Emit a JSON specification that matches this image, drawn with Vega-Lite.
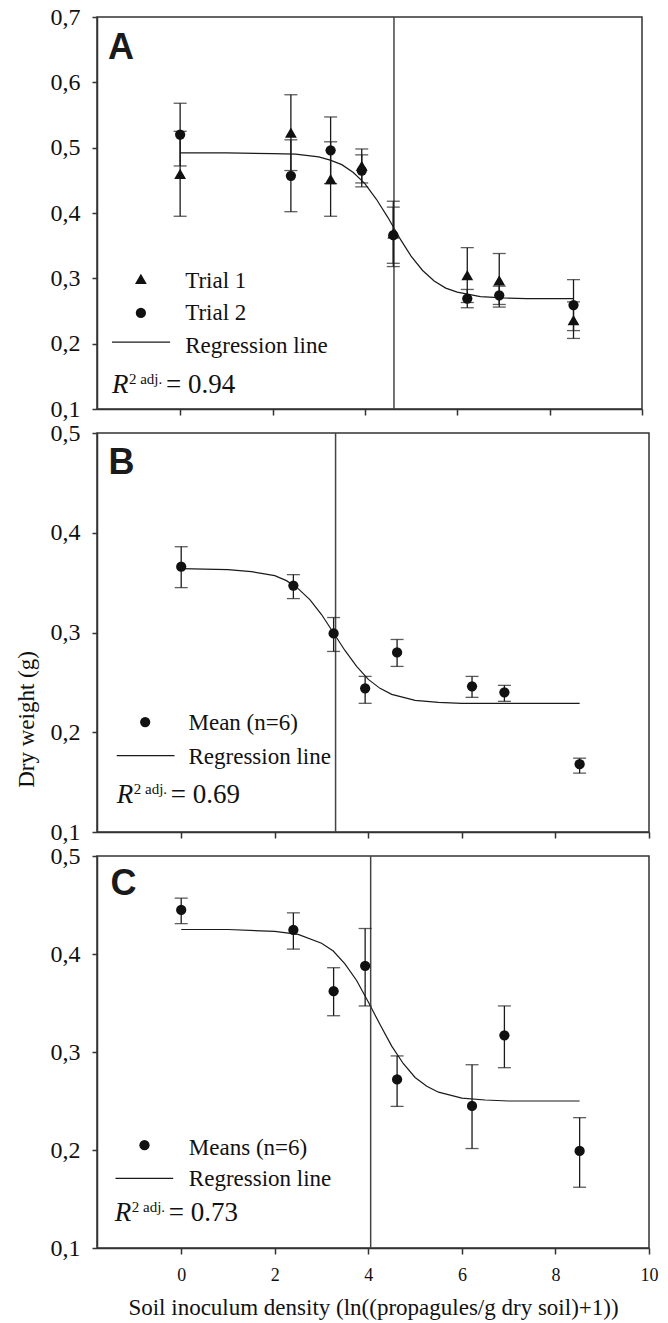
{
 "$schema": "https://vega.github.io/schema/vega-lite/v6.json",
 "background": "white",
 "padding": {"left": 14, "top": 4, "right": 5, "bottom": 0},
 "bounds": "flush",
 "spacing": 24,
 "config": {
  "font": "Liberation Serif",
  "view": {"stroke": "#333", "strokeWidth": 1.5},
  "text": {"font": "Liberation Serif"},
  "axis": {"grid": false, "domainColor": "#333", "domainWidth": 1.5, "tickColor": "#333", "tickWidth": 1.5, "tickSize": 5, "labelFont": "Liberation Serif", "labelColor": "#111", "titleFont": "Liberation Serif", "titleFontWeight": "normal", "titleColor": "#111", "labelFlush": false},
  "axisY": {"labelFontSize": 24, "labelPadding": 12, "titleFontSize": 23, "titlePadding": 12},
  "axisX": {"labelFontSize": 18, "labelPadding": 12, "titleFontSize": 23, "titlePadding": 12, "tickSize": 6}
 },
 "datasets": {
  "ptsA": [
   {"x": 0, "trial": "Trial 1", "y": 0.460, "lo": 0.395, "hi": 0.525},
   {"x": 2.398, "trial": "Trial 1", "y": 0.523, "lo": 0.465, "hi": 0.581},
   {"x": 3.258, "trial": "Trial 1", "y": 0.452, "lo": 0.395, "hi": 0.509},
   {"x": 3.932, "trial": "Trial 1", "y": 0.472, "lo": 0.440, "hi": 0.498},
   {"x": 4.615, "trial": "Trial 1", "y": 0.369, "lo": 0.318, "hi": 0.418},
   {"x": 6.217, "trial": "Trial 1", "y": 0.305, "lo": 0.263, "hi": 0.347},
   {"x": 6.909, "trial": "Trial 1", "y": 0.297, "lo": 0.256, "hi": 0.338},
   {"x": 8.517, "trial": "Trial 1", "y": 0.236, "lo": 0.208, "hi": 0.264},
   {"x": 0, "trial": "Trial 2", "y": 0.520, "lo": 0.472, "hi": 0.568},
   {"x": 2.398, "trial": "Trial 2", "y": 0.457, "lo": 0.402, "hi": 0.512},
   {"x": 3.258, "trial": "Trial 2", "y": 0.496, "lo": 0.445, "hi": 0.547},
   {"x": 3.932, "trial": "Trial 2", "y": 0.465, "lo": 0.446, "hi": 0.489},
   {"x": 4.615, "trial": "Trial 2", "y": 0.366, "lo": 0.323, "hi": 0.409},
   {"x": 6.217, "trial": "Trial 2", "y": 0.269, "lo": 0.255, "hi": 0.283},
   {"x": 6.909, "trial": "Trial 2", "y": 0.274, "lo": 0.260, "hi": 0.288},
   {"x": 8.517, "trial": "Trial 2", "y": 0.259, "lo": 0.220, "hi": 0.298}
  ],
  "curveA": [
   {"x": 0, "y": 0.492}, {"x": 1, "y": 0.492}, {"x": 2, "y": 0.491}, {"x": 2.5, "y": 0.490},
   {"x": 3, "y": 0.486}, {"x": 3.25, "y": 0.481}, {"x": 3.5, "y": 0.474}, {"x": 3.75, "y": 0.462},
   {"x": 4, "y": 0.445}, {"x": 4.25, "y": 0.421}, {"x": 4.5, "y": 0.393}, {"x": 4.75, "y": 0.362},
   {"x": 5, "y": 0.334}, {"x": 5.25, "y": 0.312}, {"x": 5.5, "y": 0.296}, {"x": 5.75, "y": 0.285},
   {"x": 6, "y": 0.279}, {"x": 6.5, "y": 0.272}, {"x": 7, "y": 0.270}, {"x": 7.5, "y": 0.269},
   {"x": 8, "y": 0.269}, {"x": 8.517, "y": 0.269}
  ],
  "ptsB": [
   {"x": 0, "y": 0.366, "lo": 0.345, "hi": 0.386},
   {"x": 2.398, "y": 0.347, "lo": 0.334, "hi": 0.358},
   {"x": 3.258, "y": 0.299, "lo": 0.281, "hi": 0.315},
   {"x": 3.932, "y": 0.244, "lo": 0.229, "hi": 0.256},
   {"x": 4.615, "y": 0.280, "lo": 0.266, "hi": 0.293},
   {"x": 6.217, "y": 0.246, "lo": 0.235, "hi": 0.256},
   {"x": 6.909, "y": 0.240, "lo": 0.231, "hi": 0.247},
   {"x": 8.517, "y": 0.168, "lo": 0.159, "hi": 0.174}
  ],
  "curveB": [
   {"x": 0, "y": 0.364}, {"x": 1, "y": 0.363}, {"x": 1.5, "y": 0.361}, {"x": 2, "y": 0.357},
   {"x": 2.25, "y": 0.352}, {"x": 2.5, "y": 0.344}, {"x": 2.75, "y": 0.333}, {"x": 3, "y": 0.318},
   {"x": 3.25, "y": 0.300}, {"x": 3.5, "y": 0.282}, {"x": 3.75, "y": 0.266}, {"x": 4, "y": 0.253},
   {"x": 4.25, "y": 0.244}, {"x": 4.5, "y": 0.238}, {"x": 5, "y": 0.232}, {"x": 5.5, "y": 0.230},
   {"x": 6, "y": 0.229}, {"x": 7, "y": 0.229}, {"x": 8.517, "y": 0.229}
  ],
  "ptsC": [
   {"x": 0, "y": 0.445, "lo": 0.431, "hi": 0.457},
   {"x": 2.398, "y": 0.4245, "lo": 0.405, "hi": 0.442},
   {"x": 3.258, "y": 0.362, "lo": 0.337, "hi": 0.386},
   {"x": 3.932, "y": 0.388, "lo": 0.347, "hi": 0.426},
   {"x": 4.615, "y": 0.272, "lo": 0.2445, "hi": 0.296},
   {"x": 6.217, "y": 0.245, "lo": 0.2015, "hi": 0.287},
   {"x": 6.909, "y": 0.317, "lo": 0.284, "hi": 0.347},
   {"x": 8.517, "y": 0.199, "lo": 0.162, "hi": 0.233}
  ],
  "curveC": [
   {"x": 0, "y": 0.425}, {"x": 1, "y": 0.425}, {"x": 2, "y": 0.423}, {"x": 2.5, "y": 0.420},
   {"x": 3, "y": 0.411}, {"x": 3.25, "y": 0.403}, {"x": 3.5, "y": 0.390}, {"x": 3.75, "y": 0.373},
   {"x": 4, "y": 0.351}, {"x": 4.25, "y": 0.328}, {"x": 4.5, "y": 0.306}, {"x": 4.75, "y": 0.288},
   {"x": 5, "y": 0.274}, {"x": 5.25, "y": 0.265}, {"x": 5.5, "y": 0.259}, {"x": 6, "y": 0.253},
   {"x": 6.5, "y": 0.251}, {"x": 7, "y": 0.250}, {"x": 8.517, "y": 0.250}
  ]
 },
 "vconcat": [
  {
   "width": 545, "height": 392,
   "layer": [
    {"data": {"name": "curveA"}, "mark": {"type": "line", "color": "#1a1a1a", "strokeWidth": 1.2},
     "encoding": {
      "x": {"field": "x", "type": "quantitative", "scale": {"domain": [-1.8, 10], "nice": false, "zero": false}, "axis": {"values": [0, 2, 4, 6, 8, 10], "labels": false, "title": null}},
      "y": {"field": "y", "type": "quantitative", "scale": {"domain": [0.1, 0.7], "nice": false, "zero": false}, "axis": {"values": [0.1, 0.2, 0.3, 0.4, 0.5, 0.6, 0.7], "labelExpr": "replace(format(datum.value, '.1f'), '.', ',')", "title": null}}
     }},
    {"data": {"values": [{}]}, "mark": {"type": "rule", "color": "#444", "strokeWidth": 1.5}, "encoding": {"x": {"datum": 4.63, "type": "quantitative"}}},
    {"data": {"name": "ptsA"}, "mark": {"type": "errorbar", "orient": "vertical", "ticks": {"size": 13, "color": "#1a1a1a", "thickness": 1.3}, "rule": {"color": "#1a1a1a", "strokeWidth": 1.3}},
     "encoding": {"x": {"field": "x", "type": "quantitative", "title": null}, "y": {"field": "lo", "type": "quantitative", "title": null}, "y2": {"field": "hi"}}},
    {"data": {"name": "ptsA"}, "transform": [{"filter": "datum.trial == 'Trial 1'"}], "mark": {"type": "point", "shape": "triangle-up", "filled": true, "opacity": 1, "color": "#111", "size": 140},
     "encoding": {"x": {"field": "x", "type": "quantitative"}, "y": {"field": "y", "type": "quantitative"}}},
    {"data": {"name": "ptsA"}, "transform": [{"filter": "datum.trial == 'Trial 2'"}], "mark": {"type": "point", "shape": "circle", "filled": true, "opacity": 1, "color": "#111", "size": 105},
     "encoding": {"x": {"field": "x", "type": "quantitative"}, "y": {"field": "y", "type": "quantitative"}}},
    {"data": {"values": [{}]}, "mark": {"type": "text", "text": "A", "font": "Liberation Sans", "fontWeight": "bold", "fontSize": 36, "align": "left", "baseline": "alphabetic", "color": "#1a1a1a"}, "encoding": {"x": {"datum": -1.56}, "y": {"datum": 0.6357}}},
    {"data": {"values": [{}]}, "mark": {"type": "point", "shape": "triangle-up", "filled": true, "opacity": 1, "color": "#111", "size": 140}, "encoding": {"x": {"datum": -0.85}, "y": {"datum": 0.299}}},
    {"data": {"values": [{}]}, "mark": {"type": "point", "shape": "circle", "filled": true, "opacity": 1, "color": "#111", "size": 105}, "encoding": {"x": {"datum": -0.85}, "y": {"datum": 0.247}}},
    {"data": {"values": [{}]}, "mark": {"type": "rule", "color": "#1a1a1a", "strokeWidth": 1.2}, "encoding": {"x": {"datum": -1.476}, "x2": {"datum": -0.217}, "y": {"datum": 0.2025}}},
    {"data": {"values": [{}]}, "mark": {"type": "text", "text": "Trial 1", "font": "Liberation Serif", "fontSize": 23, "align": "left", "baseline": "alphabetic", "color": "#111"}, "encoding": {"x": {"datum": 0.109}, "y": {"datum": 0.2852}}},
    {"data": {"values": [{}]}, "mark": {"type": "text", "text": "Trial 2", "font": "Liberation Serif", "fontSize": 23, "align": "left", "baseline": "alphabetic", "color": "#111"}, "encoding": {"x": {"datum": 0.109}, "y": {"datum": 0.2362}}},
    {"data": {"values": [{}]}, "mark": {"type": "text", "text": "Regression line", "font": "Liberation Serif", "fontSize": 23, "align": "left", "baseline": "alphabetic", "color": "#111"}, "encoding": {"x": {"datum": 0.109}, "y": {"datum": 0.1857}}},
    {"data": {"values": [{}]}, "mark": {"type": "text", "text": "R", "font": "Liberation Serif", "fontStyle": "italic", "fontSize": 27, "align": "left", "baseline": "alphabetic", "color": "#111"}, "encoding": {"x": {"datum": -1.476}, "y": {"datum": 0.1245}}},
    {"data": {"values": [{}]}, "mark": {"type": "text", "text": "2 adj.", "font": "Liberation Serif", "fontSize": 15, "align": "left", "baseline": "alphabetic", "dx": 17, "dy": -9, "color": "#111"}, "encoding": {"x": {"datum": -1.476}, "y": {"datum": 0.1245}}},
    {"data": {"values": [{}]}, "mark": {"type": "text", "text": "= 0.94", "font": "Liberation Serif", "fontSize": 27, "align": "left", "baseline": "alphabetic", "dx": 54, "color": "#111"}, "encoding": {"x": {"datum": -1.476}, "y": {"datum": 0.1245}}}
   ]
  },
  {
   "width": 552, "height": 399,
   "layer": [
    {"data": {"name": "curveB"}, "mark": {"type": "line", "color": "#1a1a1a", "strokeWidth": 1.2},
     "encoding": {
      "x": {"field": "x", "type": "quantitative", "scale": {"domain": [-1.8, 10], "nice": false, "zero": false}, "axis": {"values": [0, 2, 4, 6, 8, 10], "labels": false, "title": null}},
      "y": {"field": "y", "type": "quantitative", "title": "Dry weight (g)", "scale": {"domain": [0.1, 0.5], "nice": false, "zero": false}, "axis": {"values": [0.1, 0.2, 0.3, 0.4, 0.5], "labelExpr": "replace(format(datum.value, '.1f'), '.', ',')", "title": "Dry weight (g)", "titleY": 286}}
     }},
    {"data": {"values": [{}]}, "mark": {"type": "rule", "color": "#444", "strokeWidth": 1.5}, "encoding": {"x": {"datum": 3.30, "type": "quantitative"}}},
    {"data": {"name": "ptsB"}, "mark": {"type": "errorbar", "orient": "vertical", "ticks": {"size": 13, "color": "#1a1a1a", "thickness": 1.3}, "rule": {"color": "#1a1a1a", "strokeWidth": 1.3}},
     "encoding": {"x": {"field": "x", "type": "quantitative", "title": null}, "y": {"field": "lo", "type": "quantitative", "title": "Dry weight (g)"}, "y2": {"field": "hi"}}},
    {"data": {"name": "ptsB"}, "mark": {"type": "point", "shape": "circle", "filled": true, "opacity": 1, "color": "#111", "size": 105},
     "encoding": {"x": {"field": "x", "type": "quantitative"}, "y": {"field": "y", "type": "quantitative", "title": "Dry weight (g)"}}},
    {"data": {"values": [{}]}, "mark": {"type": "text", "text": "B", "font": "Liberation Sans", "fontWeight": "bold", "fontSize": 36, "align": "left", "baseline": "alphabetic", "color": "#1a1a1a"}, "encoding": {"x": {"datum": -1.556}, "y": {"datum": 0.459}}},
    {"data": {"values": [{}]}, "mark": {"type": "point", "shape": "circle", "filled": true, "opacity": 1, "color": "#111", "size": 105}, "encoding": {"x": {"datum": -0.77}, "y": {"datum": 0.2102}}},
    {"data": {"values": [{}]}, "mark": {"type": "rule", "color": "#1a1a1a", "strokeWidth": 1.2}, "encoding": {"x": {"datum": -1.378}, "x2": {"datum": -0.143}, "y": {"datum": 0.1766}}},
    {"data": {"values": [{}]}, "mark": {"type": "text", "text": "Mean (n=6)", "font": "Liberation Serif", "fontSize": 23, "align": "left", "baseline": "alphabetic", "color": "#111"}, "encoding": {"x": {"datum": 0.156}, "y": {"datum": 0.2018}}},
    {"data": {"values": [{}]}, "mark": {"type": "text", "text": "Regression line", "font": "Liberation Serif", "fontSize": 23, "align": "left", "baseline": "alphabetic", "color": "#111"}, "encoding": {"x": {"datum": 0.156}, "y": {"datum": 0.1683}}},
    {"data": {"values": [{}]}, "mark": {"type": "text", "text": "R", "font": "Liberation Serif", "fontStyle": "italic", "fontSize": 27, "align": "left", "baseline": "alphabetic", "color": "#111"}, "encoding": {"x": {"datum": -1.378}, "y": {"datum": 0.1295}}},
    {"data": {"values": [{}]}, "mark": {"type": "text", "text": "2 adj.", "font": "Liberation Serif", "fontSize": 15, "align": "left", "baseline": "alphabetic", "dx": 17, "dy": -9, "color": "#111"}, "encoding": {"x": {"datum": -1.378}, "y": {"datum": 0.1295}}},
    {"data": {"values": [{}]}, "mark": {"type": "text", "text": "= 0.69", "font": "Liberation Serif", "fontSize": 27, "align": "left", "baseline": "alphabetic", "dx": 54, "color": "#111"}, "encoding": {"x": {"datum": -1.378}, "y": {"datum": 0.1295}}}
   ]
  },
  {
   "width": 552, "height": 392,
   "layer": [
    {"data": {"name": "curveC"}, "mark": {"type": "line", "color": "#1a1a1a", "strokeWidth": 1.2},
     "encoding": {
      "x": {"field": "x", "type": "quantitative", "scale": {"domain": [-1.8, 10], "nice": false, "zero": false}, "axis": {"values": [0, 2, 4, 6, 8, 10], "title": "Soil inoculum density (ln((propagules/g dry soil)+1))"}},
      "y": {"field": "y", "type": "quantitative", "scale": {"domain": [0.1, 0.5], "nice": false, "zero": false}, "axis": {"values": [0.1, 0.2, 0.3, 0.4, 0.5], "labelExpr": "replace(format(datum.value, '.1f'), '.', ',')", "title": null}}
     }},
    {"data": {"values": [{}]}, "mark": {"type": "rule", "color": "#444", "strokeWidth": 1.5}, "encoding": {"x": {"datum": 4.05, "type": "quantitative"}}},
    {"data": {"name": "ptsC"}, "mark": {"type": "errorbar", "orient": "vertical", "ticks": {"size": 13, "color": "#1a1a1a", "thickness": 1.3}, "rule": {"color": "#1a1a1a", "strokeWidth": 1.3}},
     "encoding": {"x": {"field": "x", "type": "quantitative", "title": "Soil inoculum density (ln((propagules/g dry soil)+1))"}, "y": {"field": "lo", "type": "quantitative", "title": null}, "y2": {"field": "hi"}}},
    {"data": {"name": "ptsC"}, "mark": {"type": "point", "shape": "circle", "filled": true, "opacity": 1, "color": "#111", "size": 105},
     "encoding": {"x": {"field": "x", "type": "quantitative"}, "y": {"field": "y", "type": "quantitative"}}},
    {"data": {"values": [{}]}, "mark": {"type": "text", "text": "C", "font": "Liberation Sans", "fontWeight": "bold", "fontSize": 36, "align": "left", "baseline": "alphabetic", "color": "#1a1a1a"}, "encoding": {"x": {"datum": -1.512}, "y": {"datum": 0.4598}}},
    {"data": {"values": [{}]}, "mark": {"type": "point", "shape": "circle", "filled": true, "opacity": 1, "color": "#111", "size": 105}, "encoding": {"x": {"datum": -0.785}, "y": {"datum": 0.2049}}},
    {"data": {"values": [{}]}, "mark": {"type": "rule", "color": "#1a1a1a", "strokeWidth": 1.2}, "encoding": {"x": {"datum": -1.405}, "x2": {"datum": -0.171}, "y": {"datum": 0.1711}}},
    {"data": {"values": [{}]}, "mark": {"type": "text", "text": "Means (n=6)", "font": "Liberation Serif", "fontSize": 23, "align": "left", "baseline": "alphabetic", "color": "#111"}, "encoding": {"x": {"datum": 0.163}, "y": {"datum": 0.1947}}},
    {"data": {"values": [{}]}, "mark": {"type": "text", "text": "Regression line", "font": "Liberation Serif", "fontSize": 23, "align": "left", "baseline": "alphabetic", "color": "#111"}, "encoding": {"x": {"datum": 0.163}, "y": {"datum": 0.1632}}},
    {"data": {"values": [{}]}, "mark": {"type": "text", "text": "R", "font": "Liberation Serif", "fontStyle": "italic", "fontSize": 27, "align": "left", "baseline": "alphabetic", "color": "#111"}, "encoding": {"x": {"datum": -1.42}, "y": {"datum": 0.1277}}},
    {"data": {"values": [{}]}, "mark": {"type": "text", "text": "2 adj.", "font": "Liberation Serif", "fontSize": 15, "align": "left", "baseline": "alphabetic", "dx": 17, "dy": -9, "color": "#111"}, "encoding": {"x": {"datum": -1.42}, "y": {"datum": 0.1277}}},
    {"data": {"values": [{}]}, "mark": {"type": "text", "text": "= 0.73", "font": "Liberation Serif", "fontSize": 27, "align": "left", "baseline": "alphabetic", "dx": 54, "color": "#111"}, "encoding": {"x": {"datum": -1.42}, "y": {"datum": 0.1277}}}
   ]
  }
 ]
}
